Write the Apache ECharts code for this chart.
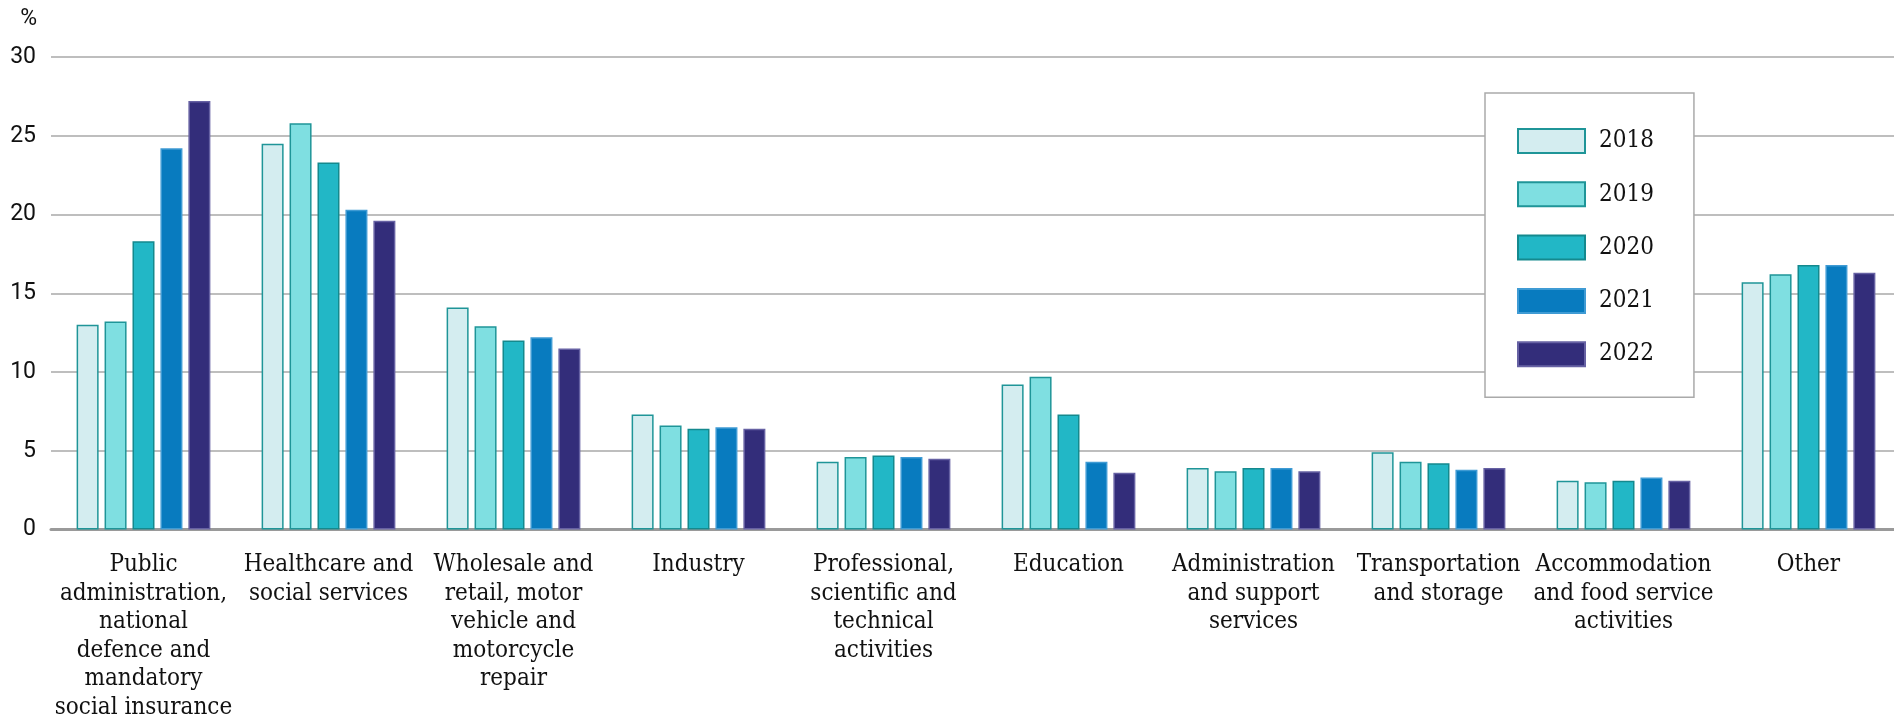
<!DOCTYPE html>
<html>
<head>
<meta charset="utf-8">
<script src="https://cdn.jsdelivr.net/npm/echarts@6/dist/echarts.min.js"></script>
<style>
  html, body { margin: 0; padding: 0; background: #ffffff; }
  #chart { width: 1894px; height: 719px; }
</style>
</head>
<body>
<div id="chart"></div>
<script>
// Employment share by sector, %
const categories = [
  'Public\nadministration,\nnational\ndefence and\nmandatory\nsocial insurance',
  'Healthcare and\nsocial services',
  'Wholesale and\nretail, motor\nvehicle and\nmotorcycle\nrepair',
  'Industry',
  'Professional,\nscientific and\ntechnical\nactivities',
  'Education',
  'Administration\nand support\nservices',
  'Transportation\nand storage',
  'Accommodation\nand food service\nactivities',
  'Other'
];

const years = ['2018', '2019', '2020', '2021', '2022'];

const values2018 = [13.0, 24.5, 14.1, 7.3, 4.3, 9.2, 3.9, 4.9, 3.1, 15.7];
const values2019 = [13.2, 25.8, 12.9, 6.6, 4.6, 9.7, 3.7, 4.3, 3.0, 16.2];
const values2020 = [18.3, 23.3, 12.0, 6.4, 4.7, 7.3, 3.9, 4.2, 3.1, 16.8];
const values2021 = [24.2, 20.3, 12.2, 6.5, 4.6, 4.3, 3.9, 3.8, 3.3, 16.8];
const values2022 = [27.2, 19.6, 11.5, 6.4, 4.5, 3.6, 3.7, 3.9, 3.1, 16.3];

const yTicks = { min: 0, max: 30, interval: 5 };

const seriesValues = [values2018, values2019, values2020, values2021, values2022];
const fills   = ['#d4edf0', '#7fdfe1', '#22b7c6', '#087bbf', '#332d7a'];
const borders = ['#1f9598', '#1f9598', '#14898e', '#3f9bd4', '#6661a3'];

const slab = '"DejaVu Serif Condensed", "DejaVu Serif", serif';

const chart = echarts.init(document.getElementById('chart'), null, { renderer: 'canvas' });

chart.setOption({
  animation: false,
  backgroundColor: '#ffffff',
  grid: { left: 51, right: -7, top: 57, bottom: 189.5, outerBoundsMode: 'none', containLabel: false },
  legend: {
    orient: 'vertical',
    left: 1485,
    top: 93,
    data: years,
    itemWidth: 67,
    itemHeight: 24,
    itemGap: 27.3,
    padding: [35, 40, 30, 32],
    backgroundColor: '#ffffff',
    borderColor: '#aaaaaa',
    borderWidth: 1.5,
    borderRadius: 0,
    textStyle: { fontFamily: slab, fontSize: 24, lineHeight: 24, color: '#111111', padding: [0, 0, 0, 9] },
    icon: 'rect'
  },
  xAxis: {
    type: 'category',
    data: categories,
    axisTick: { show: false },
    axisLine: { show: true, lineStyle: { color: '#9a9a9a', width: 3 } },
    axisLabel: {
      interval: 0,
      margin: 21,
      fontFamily: slab,
      fontSize: 24,
      lineHeight: 28.6,
      color: '#111111',
      align: 'center'
    }
  },
  yAxis: {
    type: 'value',
    min: yTicks.min,
    max: yTicks.max,
    interval: yTicks.interval,
    name: '%',
    nameLocation: 'end',
    nameGap: 26,
    nameTextStyle: { fontFamily: 'Roboto', fontSize: 23, color: '#111111', align: 'right', padding: [0, 14, 0, 0] },
    axisLine: { show: false },
    axisTick: { show: false },
    axisLabel: { fontFamily: 'Roboto', fontSize: 23, color: '#111111', margin: 15 },
    splitLine: { lineStyle: { color: '#a8a8a8', width: 1.5 } }
  },
  series: years.map((y, i) => ({
    name: y,
    type: 'bar',
    data: seriesValues[i],
    barWidth: 22,
    barGap: '27%',
    itemStyle: { color: fills[i], borderColor: borders[i], borderWidth: 1.5 }
  }))
});
</script>
</body>
</html>
